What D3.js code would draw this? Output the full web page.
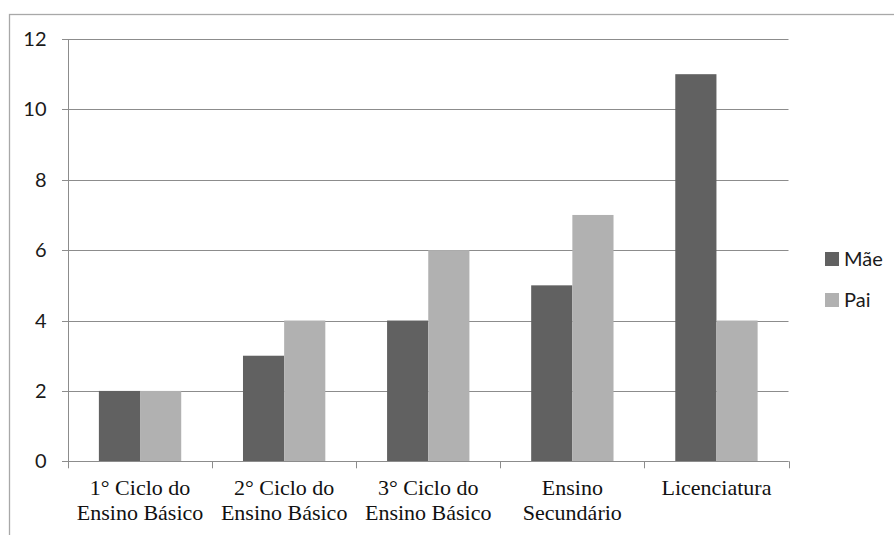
<!DOCTYPE html>
<html><head><meta charset="utf-8">
<script src="https://cdn.jsdelivr.net/npm/d3@7"></script>
<style>body{margin:0;background:#fff}svg{display:block}
.xl{font-family:"Liberation Serif","DejaVu Serif",serif;font-size:22px;fill:#111}
.sans{font-family:Lato,"Open Sans",sans-serif;font-size:20px;fill:#1a1a1a}
</style>
</head><body>
<svg id="c" width="894" height="535"></svg>
<script>
const categories = [["1° Ciclo do","Ensino Básico"],["2° Ciclo do","Ensino Básico"],["3° Ciclo do","Ensino Básico"],["Ensino","Secundário"],["Licenciatura"]];
const seriesNames = ["Mãe","Pai"];
const maeValues = [2,3,4,5,11];
const paiValues = [2,4,6,7,4];
const yTicks = [0,2,4,6,8,10,12];
const colors = ["#616161","#b1b1b1"];

(function(){
const svg = d3.select("#c");
const W=894,H=535;
const pL=68, pR=788.5, pT=39, pB=461.3;

svg.append("rect").attr("x",9.5).attr("y",14.5).attr("width",W).attr("height",H)
  .attr("fill","none").attr("stroke","#a8a8a8").attr("stroke-width",1.3);

const x = d3.scaleBand().domain(d3.range(categories.length)).range([pL,pR]);
const y = d3.scaleLinear().domain([0,12]).range([pB,pT]);

const grid="#8c8c8c";
svg.append("g").selectAll("line").data(yTicks).join("line")
  .attr("x1",pL-6).attr("x2",pR)
  .attr("y1",d=>Math.round(y(d))+0.5).attr("y2",d=>Math.round(y(d))+0.5)
  .attr("stroke",grid).attr("stroke-width",1);

const bw = x.bandwidth()/3.5;
const data = [maeValues,paiValues];
data.forEach((vals,si)=>{
  svg.append("g").selectAll("rect").data(vals).join("rect")
    .attr("x",(d,i)=>x(i)+ (x.bandwidth()-2*bw)/2 + si*bw)
    .attr("width",bw)
    .attr("y",d=>y(d)).attr("height",d=>y(0)-y(d))
    .attr("fill",colors[si]);
});

svg.append("line").attr("x1",pL+0.5).attr("x2",pL+0.5).attr("y1",pT).attr("y2",pB+0.5)
  .attr("stroke",grid);
svg.append("line").attr("x1",pL).attr("x2",pR).attr("y1",Math.round(pB)+0.5).attr("y2",Math.round(pB)+0.5).attr("stroke",grid);
const xt = d3.range(categories.length+1).map(i=> i<categories.length? x(i): pR);
svg.append("g").selectAll("line").data(xt).join("line")
  .attr("x1",d=>Math.round(d)+0.5).attr("x2",d=>Math.round(d)+0.5)
  .attr("y1",pB).attr("y2",pB+7).attr("stroke",grid);

svg.append("g").selectAll("text").data(yTicks).join("text")
  .attr("class","sans")
  .attr("x",46.5).attr("y",d=>y(d)+7)
  .attr("text-anchor","end").text(d=>d);

const xl = svg.append("g").selectAll("text").data(categories).join("text")
  .attr("class","xl")
  .attr("x",(d,i)=>x(i)+x.bandwidth()/2).attr("y",495)
  .attr("text-anchor","middle");
xl.each(function(d){
  const cx = d3.select(this).attr("x");
  d3.select(this).selectAll("tspan").data(d).join("tspan")
    .attr("x",cx).attr("dy",(t,j)=>j?25:0).text(t=>t);
});

const lg = svg.append("g").selectAll("g").data(seriesNames).join("g")
  .attr("transform",(d,i)=>`translate(825,${252+i*41})`);
lg.append("rect").attr("width",14).attr("height",14).attr("fill",(d,i)=>colors[i]);
lg.append("text").attr("class","sans").attr("x",19).attr("y",14).text(d=>d);
})();
</script>
</body></html>
